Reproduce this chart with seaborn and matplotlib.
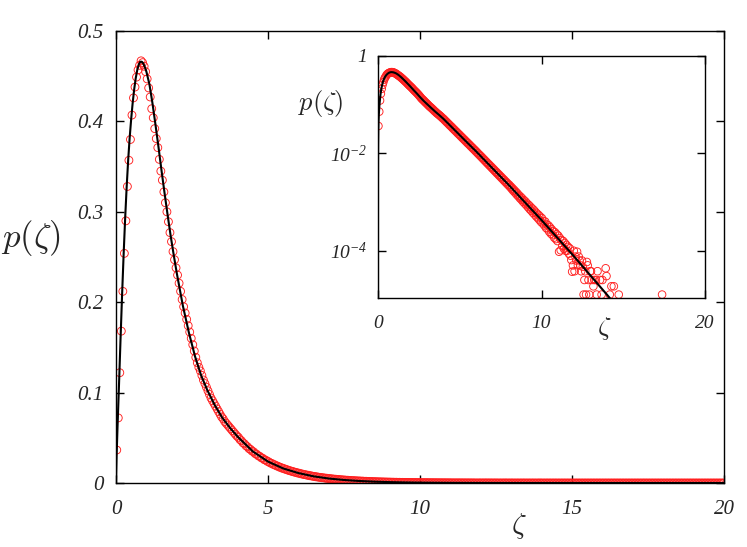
import numpy as np
import pandas as pd
import matplotlib
matplotlib.use("Agg")
import matplotlib.pyplot as plt
import seaborn as sns

# ---------------- data ----------------
bin_width = 0.05          # histogram bin width in zeta
n_bins = 400              # bins from 0 to 20

# measured p(zeta) for bins 0.025 ... 3.975 (linear values)
p_head = [
    0.0365, 0.072, 0.122, 0.168, 0.212, 0.254, 0.290, 0.328, 0.357, 0.380,
    0.407, 0.426, 0.438, 0.449, 0.457, 0.462, 0.467, 0.465, 0.461, 0.455,
    0.447, 0.437, 0.427, 0.414, 0.404, 0.392, 0.381, 0.371, 0.358, 0.345,
    0.335, 0.322, 0.310, 0.300, 0.289, 0.277, 0.267, 0.256, 0.247, 0.238,
    0.230, 0.221, 0.212, 0.203, 0.195, 0.188, 0.181, 0.174, 0.167, 0.160,
    0.153, 0.146, 0.139, 0.133, 0.128, 0.124, 0.119, 0.114, 0.110, 0.106,
    0.102, 0.098, 0.094, 0.091, 0.088, 0.085, 0.082, 0.079, 0.076, 0.073,
    0.071, 0.068, 0.066, 0.064, 0.062, 0.060, 0.058, 0.056, 0.054, 0.052,
]

# measured log10 p(zeta) for bins 4.025 ... 19.975 (None = empty bin, p = 0)
log10_p_tail = [
    -1.296, -1.318, -1.330, -1.352, -1.363, -1.385, -1.397, -1.420, -1.430, -1.452,
    -1.462, -1.487, -1.497, -1.520, -1.530, -1.553, -1.563, -1.588, -1.597, -1.620,
    -1.630, -1.655, -1.664, -1.688, -1.697, -1.722, -1.730, -1.756, -1.764, -1.790,
    -1.796, -1.822, -1.830, -1.857, -1.864, -1.890, -1.897, -1.924, -1.930, -1.958,
    -1.964, -1.992, -2.000, -2.027, -2.033, -2.061, -2.066, -2.096, -2.101, -2.131,
    -2.135, -2.166, -2.170, -2.201, -2.204, -2.236, -2.238, -2.270, -2.272, -2.305,
    -2.306, -2.340, -2.341, -2.375, -2.375, -2.410, -2.409, -2.445, -2.443, -2.480,
    -2.477, -2.514, -2.512, -2.550, -2.545, -2.585, -2.580, -2.620, -2.614, -2.655,
    -2.645, -2.690, -2.680, -2.730, -2.715, -2.770, -2.750, -2.805, -2.785, -2.845,
    -2.820, -2.880, -2.860, -2.920, -2.890, -2.955, -2.925, -2.995, -2.960, -3.030,
    -2.990, -3.065, -3.030, -3.105, -3.060, -3.145, -3.095, -3.180, -3.130, -3.220,
    -3.160, -3.255, -3.200, -3.295, -3.235, -3.330, -3.265, -3.370, -3.300, -3.410,
    -3.330, -3.440, -3.390, -3.480, -3.400, -3.530, -3.460, -3.560, -3.480, -3.610,
    -3.520, -3.650, -3.560, -3.680, -3.600, -3.730, -3.620, -3.760, -3.660, -3.800,
    -3.690, -4.020, -3.740, -3.990, -3.780, -3.900, -3.800, -3.960, -3.840, -4.000,
    -3.880, -4.000, -3.920, -4.060, -3.950, -4.100, -4.190, -4.430, -4.300, -4.000,
    -4.420, -4.120, -4.200, -4.020, -4.300, -4.120, -4.200, -4.300, -4.420, -4.200,
    -4.330, -4.900, -4.600, -4.420, -4.900, -4.230, -4.300, -4.600, -4.900, -4.420,
    -4.420, -4.600, None, -4.730, -4.600, None, -4.600, -4.900, -4.420, None,
    None, -4.600, None, -4.900, -4.600, None, None, None, -4.360, -4.520,
    None, None, None, -4.900, None, -4.730, None, None, -4.730, None,
    None, None, None, None, -4.900, None, None, None, None, None,
    None, None, None, None, None, None, None, None, None, None,
    None, None, None, None, None, None, None, None, None, None,
    None, None, None, None, None, None, None, None, None, None,
    None, None, None, None, None, None, None, None, None, None,
    None, None, None, None, None, None, None, -4.900, None, None,
    None, None, None, None, None, None, None, None, None, None,
    None, None, None, None, None, None, None, None, None, None,
    None, None, None, None, None, None, None, None, None, None,
    None, None, None, None, None, None, None, None, None, None,
    None, None, None, None, None, None, None, None, None, None,
]

# fitted curve (black line)
curve_zeta = [0.0, 1e-6, 1e-5, 0.001, 0.005, 0.01, 0.02, 0.035, 0.05, 0.075,
              0.1, 0.15, 0.2, 0.25, 0.3, 0.35, 0.4, 0.45, 0.5, 0.55,
              0.6, 0.65, 0.7, 0.75, 0.8, 0.85, 0.9, 0.95, 1.0, 1.1,
              1.2, 1.3, 1.4, 1.5, 1.6, 1.7, 1.8, 1.9, 2.0, 2.2,
              2.4, 2.6, 2.8, 3.0, 3.25, 3.5, 3.75, 4.0, 4.5, 5.0,
              5.5, 6.0, 6.5, 7.0, 7.5, 8.0, 8.5, 9.0, 9.5, 10.0,
              10.5, 11.0, 11.5, 12.0, 12.5, 13.0, 13.5, 14.0, 14.5, 15.0,
              16.0, 17.0, 18.0, 19.0, 20.0]
curve_p = [0.0, 6.6e-6, 4.7e-5, 0.0025, 0.009, 0.016, 0.030, 0.046, 0.062, 0.086,
           0.110, 0.160, 0.208, 0.252, 0.292, 0.327, 0.357, 0.382, 0.403, 0.421,
           0.436, 0.448, 0.457, 0.463, 0.466, 0.466, 0.464, 0.460, 0.455, 0.441,
           0.420, 0.396, 0.371, 0.345, 0.320, 0.296, 0.273, 0.252, 0.232, 0.196,
           0.166, 0.140, 0.119, 0.103, 0.086, 0.072, 0.061, 0.0513, 0.0349, 0.0237,
           0.0161, 0.0110, 0.00737, 0.00495, 0.00333, 0.00224, 0.00148, 0.000977, 0.000646, 0.000427,
           0.000277, 0.000180, 0.000117, 7.59e-5, 4.84e-5, 3.09e-5, 1.97e-5, 1.26e-5, 7.9e-6, 5.0e-6,
           2.0e-6, 7.9e-7, 3.2e-7, 1.26e-7, 5.0e-8]

main_xticks = [0, 5, 10, 15, 20]
main_xticklabels = ["0", "5", "10", "15", "20"]
main_yticks = [0, 0.1, 0.2, 0.3, 0.4, 0.5]
main_yticklabels = ["0", "0.1", "0.2", "0.3", "0.4", "0.5"]
inset_xticks = [0, 10, 20]
inset_xticklabels = ["0", "10", "20"]
inset_yticks = [1, 1e-2, 1e-4]
inset_yticklabels = [r"$1$", r"$10^{-2}$", r"$10^{-4}$"]

# ---------------- build table ----------------
assert len(p_head) + len(log10_p_tail) == n_bins
zeta_bins = bin_width / 2 + bin_width * np.arange(n_bins)
p_tail = [0.0 if v is None else 10.0 ** v for v in log10_p_tail]
hist = pd.DataFrame({"zeta": zeta_bins, "p": list(p_head) + p_tail})
fit = pd.DataFrame({"zeta": curve_zeta, "p": curve_p})

# ---------------- style ----------------
sns.set_style("ticks")
plt.rcParams["font.family"] = ["Liberation Serif", "DejaVu Serif"]
plt.rcParams["font.style"] = "italic"
plt.rcParams["mathtext.fontset"] = "custom"
plt.rcParams["mathtext.it"] = "Liberation Serif:italic"
plt.rcParams["mathtext.rm"] = "Liberation Serif:italic"
plt.rcParams["axes.edgecolor"] = "black"
plt.rcParams["axes.linewidth"] = 1.0

W, H = 747, 547
fig = plt.figure(figsize=(W / 100, H / 100), dpi=100)

def px_rect(l, t, r, b):
    return [l / W, 1 - b / H, (r - l) / W, (b - t) / H]

# ---------------- main axes ----------------
ax = fig.add_axes(px_rect(116, 31, 724, 483))
sns.scatterplot(data=hist, x="zeta", y="p", ax=ax, marker="o", s=32,
                linewidth=0.65, legend=False, zorder=2)
pts = ax.collections[-1]
pts.set_facecolor("none")
pts.set_edgecolor("#ff2020")
sns.lineplot(data=fit, x="zeta", y="p", ax=ax, color="black", linewidth=1.5,
             sort=False, estimator=None, zorder=3)
ax.set_xlim(0, 20)
ax.set_ylim(0, 0.5)
ax.set_xticks(main_xticks)
ax.set_xticklabels(main_xticklabels)
ax.set_yticks(main_yticks)
ax.set_yticklabels(main_yticklabels)
ax.tick_params(direction="in", length=6, width=1, top=True, right=True,
               labelsize=15, color="black")
ax.tick_params(axis="x", pad=12)
ax.tick_params(axis="y", pad=9)
ax.set_xlabel("")
ax.set_ylabel("")
for s in ax.spines.values():
    s.set_visible(True)
    s.set_color("black")

fig.text(31 / W, 1 - 238 / H, r"$p(\zeta)$", ha="center", va="center",
         fontsize=25, math_fontfamily="cm")
fig.text(519 / W, 1 - 526 / H, r"$\zeta$", ha="center", va="center",
         fontsize=21, math_fontfamily="cm")

# ---------------- inset ----------------
axi = fig.add_axes(px_rect(378, 56, 705, 298))
axi.set_facecolor("white")
pos = hist[hist["p"] > 0]
sns.scatterplot(data=pos, x="zeta", y="p", ax=axi, marker="o", s=30,
                linewidth=0.65, legend=False, zorder=2)
ipts = axi.collections[-1]
ipts.set_facecolor("none")
ipts.set_edgecolor("#ff2020")
sns.lineplot(data=fit, x="zeta", y="p", ax=axi, color="black", linewidth=1.5,
             sort=False, estimator=None, zorder=3)
axi.set_yscale("log")
axi.set_xlim(0, 20)
axi.set_ylim(10 ** -4.97, 1)
axi.set_xticks(inset_xticks)
axi.set_xticklabels(inset_xticklabels)
axi.set_yticks(inset_yticks)
axi.set_yticklabels(inset_yticklabels)
axi.yaxis.set_minor_locator(matplotlib.ticker.NullLocator())
axi.tick_params(direction="in", length=6, width=1, top=True, right=True,
                labelsize=14, color="black")
axi.tick_params(axis="x", pad=12)
axi.tick_params(axis="y", pad=8)
axi.set_xlabel("")
axi.set_ylabel("")
for s in axi.spines.values():
    s.set_visible(True)
    s.set_color("black")

fig.text(321 / W, 1 - 104 / H, r"$p(\zeta)$", ha="center", va="center",
         fontsize=19, math_fontfamily="cm")
fig.text(604 / W, 1 - 328 / H, r"$\zeta$", ha="center", va="center",
         fontsize=19, math_fontfamily="cm")

fig.savefig("out.png", dpi=100)
